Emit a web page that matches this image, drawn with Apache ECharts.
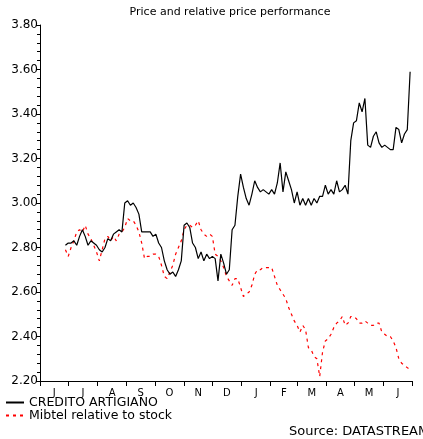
<!DOCTYPE html>
<html>
<head>
<meta charset="utf-8">
<script src="https://cdn.jsdelivr.net/npm/echarts@6/dist/echarts.min.js"></script>
<style>
  html, body { margin: 0; padding: 0; background: #fff; }
  #chart { width: 423px; height: 439px; }
</style>
</head>
<body>
<div id="chart"></div>
<script>
// days counted from 1 June (start of the x axis)
const days = [
  27, 30, 33, 36, 39, 42, 45, 48, 51, 54, 57, 60, 63, 66, 69, 72, 75, 78, 81, 84,
  87, 90, 93, 96, 99, 102, 105, 108, 111, 114, 117, 120, 123, 126, 129, 132, 135, 138, 141, 144,
  147, 150, 153, 156, 159, 162, 165, 168, 171, 174, 177, 180, 183, 186, 189, 192, 195, 198, 201, 204,
  207, 210, 213, 216, 219, 222, 225, 228, 231, 234, 237, 240, 243, 246, 249, 252, 255, 258, 261, 264,
  267, 270, 273, 276, 279, 282, 285, 288, 291, 294, 297, 300, 303, 306, 309, 312, 315, 318, 321, 324,
  327, 330, 333, 336, 339, 342, 345, 348, 351, 354, 357, 360, 363, 366, 369, 372, 375, 378, 381, 384,
  387, 390, 393
];

const credito = [
  2.81, 2.82, 2.82, 2.83, 2.81, 2.85, 2.88, 2.85, 2.81, 2.83, 2.82, 2.81, 2.79, 2.78, 2.80, 2.84, 2.83, 2.86, 2.87, 2.88,
  2.87, 3.00, 3.01, 2.99, 3.00, 2.98, 2.95, 2.87, 2.87, 2.87, 2.87, 2.85, 2.86, 2.82, 2.80, 2.74, 2.70, 2.68, 2.69, 2.67,
  2.70, 2.74, 2.90, 2.91, 2.89, 2.82, 2.80, 2.75, 2.78, 2.74, 2.77, 2.75, 2.76, 2.75, 2.65, 2.77, 2.73, 2.68, 2.70, 2.88,
  2.90, 3.03, 3.13, 3.07, 3.02, 2.99, 3.04, 3.10, 3.07, 3.05, 3.06, 3.05, 3.04, 3.06, 3.04, 3.09, 3.18, 3.05, 3.14, 3.10,
  3.06, 3.00, 3.05, 2.99, 3.02, 2.99, 3.02, 2.99, 3.02, 3.00, 3.03, 3.03, 3.08, 3.04, 3.06, 3.04, 3.10, 3.05, 3.06, 3.08,
  3.04, 3.28, 3.36, 3.37, 3.45, 3.41, 3.47, 3.26, 3.25, 3.30, 3.32, 3.27, 3.25, 3.26, 3.25, 3.24, 3.24, 3.34, 3.33, 3.27,
  3.31, 3.33, 3.59
];

const mibtel = [
  2.79, 2.76, 2.80, 2.83, 2.87, 2.88, 2.87, 2.90, 2.86, 2.84, 2.81, 2.78, 2.74, 2.79, 2.84, 2.85, 2.83, 2.85, 2.83, 2.86,
  2.87, 2.89, 2.93, 2.92, 2.92, 2.90, 2.87, 2.82, 2.75, 2.76, 2.76, 2.77, 2.77, 2.76, 2.72, 2.67, 2.66, 2.69, 2.72, 2.77,
  2.80, 2.83, 2.88, 2.90, 2.90, 2.89, 2.90, 2.92, 2.88, 2.86, 2.85, 2.86, 2.85, 2.77, 2.76, 2.74, 2.71, 2.67, 2.65, 2.63,
  2.66, 2.66, 2.62, 2.58, 2.59, 2.60, 2.63, 2.68, 2.70, 2.70, 2.71, 2.71, 2.71, 2.71, 2.67, 2.63, 2.61, 2.59, 2.57, 2.53,
  2.50, 2.47, 2.45, 2.42, 2.45, 2.43, 2.35, 2.34, 2.31, 2.30, 2.22, 2.33, 2.38, 2.39, 2.41, 2.44, 2.46, 2.47, 2.49, 2.45,
  2.46, 2.49, 2.49, 2.48, 2.46, 2.46, 2.47, 2.46, 2.45, 2.45, 2.46, 2.46, 2.42, 2.41, 2.40, 2.40, 2.38, 2.35, 2.30, 2.28,
  2.27, 2.26, 2.25
];

// month boundaries (days from 1 June) and their one-letter labels
const monthStarts = [0, 30, 61, 92, 122, 153, 183, 214, 245, 273, 304, 334, 365, 395];
const monthLetters = ['J', 'J', 'A', 'S', 'O', 'N', 'D', 'J', 'F', 'M', 'A', 'M', 'J'];

const seriesNames = ['CREDITO ARTIGIANO', 'Mibtel relative to stock'];

const chart = echarts.init(document.getElementById('chart'));
const font = '"DejaVu Sans", "Liberation Sans", sans-serif';

const monthMids = monthLetters.map((_, i) => (monthStarts[i] + monthStarts[i + 1]) / 2);
const pair = vals => days.map((d, i) => [d, vals[i]]);

chart.setOption({
  animation: false,
  textStyle: { fontFamily: font },
  title: {
    text: 'Price and relative price performance',
    left: 225, top: 2, textAlign: 'center',
    textStyle: { fontSize: 11, fontWeight: 'normal', color: '#000', fontFamily: font },
  },
  grid: { left: 40, right: 11, top: 25, bottom: 58, containLabel: false },
  legend: {
    orient: 'vertical', left: 5, top: 396, itemGap: 0, padding: 0,
    itemWidth: 18, itemHeight: 12,
    itemStyle: { opacity: 0 },
    textStyle: { fontSize: 12.5, color: '#000', fontFamily: font },
    data: seriesNames,
  },
  xAxis: {
    type: 'value', min: 0, max: 395,
    splitLine: { show: false },
    axisLine: { lineStyle: { color: '#000', width: 1 } },
    axisTick: { show: true, length: 5, lineStyle: { color: '#000' }, customValues: monthStarts },
    axisLabel: {
      fontSize: 10, color: '#000', margin: 7, fontFamily: font,
      customValues: monthMids,
      formatter: v => {
        const i = monthMids.findIndex(m => Math.abs(m - v) < 1);
        return i >= 0 ? monthLetters[i] : '';
      },
    },
  },
  yAxis: {
    type: 'value', min: 2.2, max: 3.8, interval: 0.2,
    splitLine: { show: false },
    axisLine: { show: true, lineStyle: { color: '#000', width: 1 } },
    axisTick: { show: true, length: 4, lineStyle: { color: '#000' } },
    minorTick: { show: true, splitNumber: 5, length: 3, lineStyle: { color: '#000' } },
    axisLabel: { fontSize: 12, color: '#000', margin: 2, fontFamily: font, formatter: v => v.toFixed(2) },
  },
  series: [
    {
      name: seriesNames[0], type: 'line', data: pair(credito),
      symbol: 'none', lineStyle: { color: '#000', width: 1.2 }, itemStyle: { color: '#000' },
      z: 3,
    },
    {
      name: seriesNames[1], type: 'line', data: pair(mibtel),
      symbol: 'none', lineStyle: { color: '#ff0000', width: 1.2, type: [3, 4] }, itemStyle: { color: '#ff0000' },
      z: 2,
    },
  ],
  graphic: [
    { type: 'text', left: 289, top: 425, style: { text: 'Source: DATASTREAM', fontSize: 13, fill: '#000', fontFamily: font } },
  ],
});
</script>
</body>
</html>
